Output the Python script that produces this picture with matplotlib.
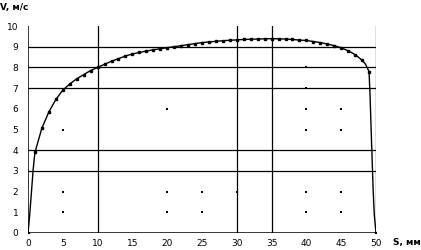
import matplotlib
matplotlib.use("Agg")
import matplotlib.pyplot as plt
import numpy as np

# Data: path S (mm) and velocity V (m/s)
S = [0, 0.25, 0.5, 0.75, 1, 2, 3, 4, 5, 6, 7, 8, 9, 10, 11, 12, 13, 14, 15, 16, 17, 18, 19,
     20, 21, 22, 23, 24, 25, 26, 27, 28, 29, 30, 31, 32, 33, 34, 35, 36, 37, 38, 39, 40,
     41, 42, 43, 44, 45, 46, 47, 48, 48.5, 49, 49.15, 49.3, 49.45, 49.6, 49.75, 50]
V = [0, 0.9, 2.0, 3.1, 3.9, 5.07, 5.85, 6.45, 6.9, 7.2, 7.45, 7.65, 7.85, 8.0, 8.15, 8.3,
     8.42, 8.55, 8.65, 8.72, 8.79, 8.85, 8.9, 8.95, 9.0, 9.05, 9.1, 9.15, 9.2, 9.23, 9.26,
     9.29, 9.31, 9.33, 9.35, 9.36, 9.37, 9.38, 9.39, 9.38, 9.37, 9.35, 9.32, 9.3, 9.25,
     9.2, 9.13, 9.05, 8.95, 8.8, 8.62, 8.35, 8.15, 7.8, 6.6, 5.0, 3.5, 2.0, 0.9, 0]

x_ticks = [0, 5, 10, 15, 20, 25, 30, 35, 40, 45, 50]
y_ticks = [0, 1, 2, 3, 4, 5, 6, 7, 8, 9, 10]
v_grid = [10, 30, 35, 50]
h_grid = [3, 4, 7, 8, 9]
# leftover grid dots
dot_x = [5, 5, 5, 20, 20, 20, 25, 25, 30, 40, 40, 40, 40, 40, 40, 45, 45, 45, 45]
dot_y = [5, 2, 1, 6, 2, 1, 2, 1, 2, 8, 7, 6, 5, 2, 1, 6, 5, 2, 1]

fig = plt.figure(figsize=(4.21, 2.5), dpi=100)
ax = fig.add_axes([28/421, 17/250, 348/421, 207/250])
ax.set_xlim(0, 50)
ax.set_ylim(0, 10)
for s in ax.spines.values():
    s.set_visible(False)
ax.axvline(0, color="black", lw=1.1)
ax.axhline(0, color="black", lw=1.1)
for gx in v_grid:
    ax.axvline(gx, color="black", lw=0.9)
for gy in h_grid:
    ax.axhline(gy, color="black", lw=0.9)
ax.scatter(dot_x, dot_y, s=0.8, color="black", marker="s", linewidths=0)

mk = [i for i, s in enumerate(S) if float(s).is_integer()]
ax.plot(S, V, color="black", lw=1.0, marker="s", ms=1.5, markevery=mk)

ax.set_xticks(x_ticks)
ax.set_yticks(y_ticks)
ax.tick_params(axis="y", length=0, labelsize=6.5, pad=7)
ax.tick_params(axis="x", length=0, labelsize=6.5, pad=4)
ax.text(-0.08, 1.09, "V, м/с", transform=ax.transAxes, fontsize=6.5, fontweight="bold",
        ha="left", va="center")
ax.text(1.05, -0.045, "S, мм", transform=ax.transAxes, fontsize=6.5, fontweight="bold",
        ha="left", va="center")
fig.savefig("out.png", dpi=100)
